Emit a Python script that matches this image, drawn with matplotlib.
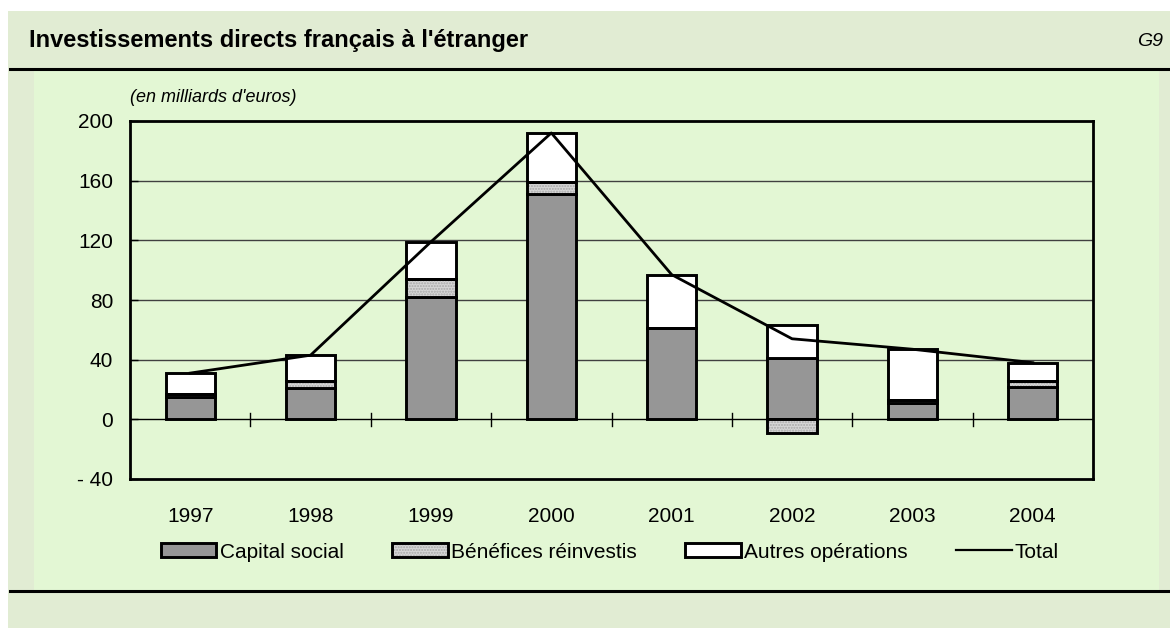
import matplotlib
matplotlib.use("Agg")
import matplotlib.pyplot as plt
import numpy as np
from matplotlib.patches import Rectangle, Patch
from matplotlib.lines import Line2D
from matplotlib.legend_handler import HandlerTuple

plt.rcParams["font.family"] = ["Liberation Sans", "DejaVu Sans"]
plt.rcParams["hatch.linewidth"] = 1.0

# --- data (milliards d'euros) ---
years = ["1997", "1998", "1999", "2000", "2001", "2002", "2003", "2004"]
capital_social = [15, 21, 82, 151, 61, 41, 11, 22]
benefices_reinvestis = [2, 5, 12, 8, 0.5, -9, 2, 4]
autres_operations = [14, 17, 25, 33, 35.5, 22, 34, 12]
total = [31, 43, 119, 192, 97, 54, 47, 38]
y_ticks = [-40, 0, 40, 80, 120, 160, 200]
y_tick_labels = ["- 40", "0", "40", "80", "120", "160", "200"]

PANEL = "#E3F7D4"
OUTER = "#E1ECD3"
GRAY = "#969696"
LIGHT = "#D6D6D6"

W, H = 1170, 628
fig = plt.figure(figsize=(W / 100, H / 100), dpi=100)
fig.patch.set_facecolor("white")


def fx(px):
    return px / W


def fy(py):
    return 1 - py / H


# background bands
fig.patches.append(Rectangle((fx(8), 0), fx(W - 8), fy(11), transform=fig.transFigure,
                             facecolor=OUTER, edgecolor="none", zorder=-3))
fig.patches.append(Rectangle((fx(34), fy(590)), fx(1159 - 34), fy(70) - fy(590),
                             transform=fig.transFigure, facecolor=PANEL,
                             edgecolor="none", zorder=-2))
for yy in (69, 591):
    fig.add_artist(Line2D([fx(10), 1], [fy(yy), fy(yy)], color="black", lw=2.2))

fig.text(fx(29), fy(40), "Investissements directs français à l'étranger",
         fontsize=17, fontweight="bold", va="center", ha="left")
fig.text(fx(1163), fy(42), "G9", fontsize=14, style="italic", va="center", ha="right")
fig.text(fx(130), fy(97), "(en milliards d'euros)", fontsize=13, style="italic",
         va="center", ha="left")

ax = fig.add_axes([fx(130), fy(479), fx(1093 - 130), fy(121) - fy(479)])
ax.set_facecolor(PANEL)

x = np.arange(len(years))
cap = np.array(capital_social, dtype=float)
ben = np.array(benefices_reinvestis, dtype=float)
aut = np.array(autres_operations, dtype=float)
ben_bottom = np.where(ben >= 0, cap, 0)
aut_bottom = cap + np.clip(ben, 0, None)
bw = 0.41
lw = 2.1

ax.bar(x, cap, bw, color=GRAY, edgecolor="black", lw=lw, zorder=3)
ax.bar(x, ben, bw, bottom=ben_bottom, color=LIGHT, edgecolor="#A8A8A8",
       hatch="......", lw=0, zorder=3)
ax.bar(x, ben, bw, bottom=ben_bottom, facecolor="none", edgecolor="black", lw=lw, zorder=3.1)
ax.bar(x, aut, bw, bottom=aut_bottom, color="white", edgecolor="black", lw=lw, zorder=3)
ax.plot(x, total, color="black", lw=2.0, zorder=5)

ax.set_xlim(-0.5, len(years) - 0.5)
ax.set_ylim(-40, 200)
for g in [40, 80, 120, 160]:
    ax.axhline(g, color="#404040", lw=1.0, zorder=1)
ax.axhline(0, color="black", lw=1.0, zorder=2)

for s in ["left", "right", "top", "bottom"]:
    ax.spines[s].set_linewidth(2.0)
    ax.spines[s].set_color("black")
    ax.spines[s].set_zorder(6)

ax.set_yticks(y_ticks)
ax.set_yticklabels(y_tick_labels, fontsize=15)
ax.tick_params(axis="y", direction="in", length=6, width=1, pad=12)

ax.set_xticks(x)
ax.set_xticklabels(years, fontsize=15)
ax.tick_params(axis="x", which="major", length=0, pad=20)
for b in x[:-1] + 0.5:
    ax.plot([b, b], [-4.5, 4], color="black", lw=1.0, zorder=2)

handles = [
    Patch(facecolor=GRAY, edgecolor="black", lw=lw),
    (Patch(facecolor=LIGHT, edgecolor="#A8A8A8", hatch="......", lw=0),
     Patch(facecolor="none", edgecolor="black", lw=lw)),
    Patch(facecolor="white", edgecolor="black", lw=lw),
    Line2D([], [], color="black", lw=1.6),
]
labels = ["Capital social", "Bénéfices réinvestis", "Autres opérations", "Total"]
fig.legend(handles, labels, loc="center", bbox_to_anchor=(fx(610), fy(552)), ncol=4,
           frameon=False, fontsize=15, handlelength=2.65, handleheight=0.68,
           handletextpad=0.15, columnspacing=2.35,
           handler_map={tuple: HandlerTuple(ndivide=1, pad=0)})

fig.savefig("out.png", dpi=100, facecolor=fig.get_facecolor())
